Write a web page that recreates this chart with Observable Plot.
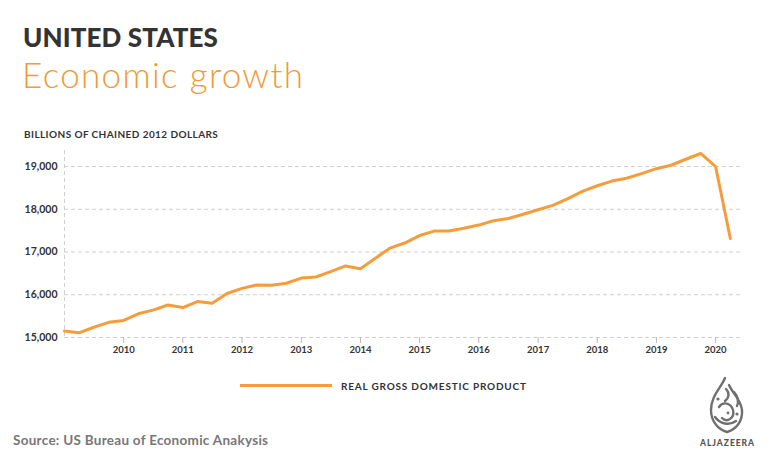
<!DOCTYPE html>
<html>
<head>
<meta charset="utf-8">
<script src="https://cdn.jsdelivr.net/npm/d3@7"></script>
<script src="https://cdn.jsdelivr.net/npm/@observablehq/plot@0.6"></script>
<style>
  html, body { margin: 0; padding: 0; background: #fff; }
  body { width: 770px; height: 472px; position: relative; overflow: hidden; font-family: Lato, "Open Sans", sans-serif; }
  .t { position: absolute; white-space: nowrap; line-height: 1; }
  #title { left: 23px; top: 24px; font-size: 26px; font-weight: 900; color: #333; }
  #subtitle { left: 22px; top: 57px; font-size: 35px; font-weight: 300; color: #f09a38; }
  #units { left: 24px; top: 129px; font-size: 10px; font-weight: 700; color: #333; }
  #legendText { left: 341px; top: 381px; font-size: 10px; font-weight: 700; color: #333; }
  #source { left: 13px; top: 434px; font-size: 13.5px; font-weight: 700; color: #777; }
  #logoText { left: 700px; top: 438.5px; font-size: 8.5px; font-weight: 900; color: #555; }
  #legendLine { position: absolute; left: 240px; top: 384px; width: 92px; height: 3px; background: #f59d3d; }
  #chart { position: absolute; left: 0; top: 140px; }
  #logo { position: absolute; left: 698px; top: 376px; }
</style>
</head>
<body>
<div id="title" class="t" data-w="195">UNITED STATES</div>
<div id="subtitle" class="t" data-w="281">Economic growth</div>
<div id="units" class="t" data-w="194">BILLIONS OF CHAINED 2012 DOLLARS</div>
<div id="chart"></div>
<div id="legendLine"></div>
<div id="legendText" class="t" data-w="185">REAL GROSS DOMESTIC PRODUCT</div>
<div id="source" class="t" data-w="255">Source: US Bureau of Economic Anakysis</div>
<svg id="logo" width="60" height="60" viewBox="0 0 60 60">
  <g fill="none" stroke="#6f6f6f" stroke-width="2.4" stroke-linecap="round">
    <path d="M27 2 C23 12 13 20 13 34 C13 46 21 54 29 56 C37 54 45 46 44 34 C43 24 35 18 31 9"/>
    <path d="M21 31 C25 25 33 27 35 34 C37 42 29 47 24 42"/>
    <path d="M28 13 C32 17 31 22 27 25"/>
    <path d="M17 41 C22 48 31 50 38 45"/>
    <path d="M36 16 C40 20 41 26 39 30"/>
  </g>
  <g fill="#6f6f6f"><circle cx="20" cy="23" r="1.6"/><circle cx="39" cy="38" r="1.6"/><circle cx="30" cy="37" r="1.4"/></g>
</svg>
<div id="logoText" class="t" data-w="54">ALJAZEERA</div>
<script>
// ---- data ----
const quarters = [
  "2009-01-01","2009-04-01","2009-07-01","2009-10-01",
  "2010-01-01","2010-04-01","2010-07-01","2010-10-01",
  "2011-01-01","2011-04-01","2011-07-01","2011-10-01",
  "2012-01-01","2012-04-01","2012-07-01","2012-10-01",
  "2013-01-01","2013-04-01","2013-07-01","2013-10-01",
  "2014-01-01","2014-04-01","2014-07-01","2014-10-01",
  "2015-01-01","2015-04-01","2015-07-01","2015-10-01",
  "2016-01-01","2016-04-01","2016-07-01","2016-10-01",
  "2017-01-01","2017-04-01","2017-07-01","2017-10-01",
  "2018-01-01","2018-04-01","2018-07-01","2018-10-01",
  "2019-01-01","2019-04-01","2019-07-01","2019-10-01",
  "2020-01-01","2020-04-01"
];
const gdp = [
  15150, 15110, 15240, 15355,
  15400, 15555, 15640, 15760,
  15700, 15840, 15800, 16030,
  16150, 16230, 16220, 16270,
  16390, 16415, 16540, 16675,
  16610, 16850, 17090, 17210,
  17385, 17490, 17490, 17555,
  17630, 17730, 17785, 17885,
  17990, 18090, 18245, 18420,
  18550, 18660, 18725, 18835,
  18950, 19030, 19170, 19305,
  19000, 17315
];
const yTicks = [15000, 16000, 17000, 18000, 19000];
const xTickYears = ["2010","2011","2012","2013","2014","2015","2016","2017","2018","2019","2020"];
const seriesName = "REAL GROSS DOMESTIC PRODUCT";

const data = quarters.map((q, i) => ({date: new Date(q + "T00:00:00Z"), value: gdp[i]}));
const xTicks = xTickYears.map(y => new Date(y + "-01-01T00:00:00Z"));
const x0 = new Date("2009-01-01T00:00:00Z");
const x1 = new Date("2020-06-15T00:00:00Z");

const chart = Plot.plot({
  width: 770,
  height: 222,
  marginTop: 10,
  marginBottom: 25,
  marginLeft: 64,
  marginRight: 28,
  style: {fontFamily: "Lato, 'Open Sans', sans-serif", background: "transparent", color: "#333"},
  x: {type: "utc", domain: [x0, x1]},
  y: {domain: [15000, 19375]},
  marks: [
    Plot.gridY(yTicks, {stroke: "#cfcfcf", strokeOpacity: 1, strokeDasharray: "4,3"}),
    Plot.ruleX([x0], {stroke: "#cfcfcf", strokeDasharray: "4,3"}),
    Plot.axisY(yTicks, {tickSize: 0, tickPadding: 7, tickFormat: d3.format(","), label: null,
      fill: "#333", fontSize: 10.5, fontWeight: 700, style: "letter-spacing:-0.3px"}),
    Plot.axisX(xTicks, {tickSize: 6, tickPadding: 3, tickFormat: d3.utcFormat("%Y"), label: null,
      stroke: "#b8b8b8", fill: "#333", fontSize: 9.5, fontWeight: 700, style: "letter-spacing:-0.4px"}),
    Plot.line(data, {x: "date", y: "value", stroke: "#f59d3d", strokeWidth: 3,
      strokeLinejoin: "round", strokeLinecap: "round", title: () => seriesName})
  ]
});
document.getElementById("chart").appendChild(chart);

// fit text widths to the reference by letter-spacing
document.querySelectorAll(".t[data-w]").forEach(el => {
  const target = +el.dataset.w;
  const w = el.getBoundingClientRect().width;
  const n = el.textContent.length;
  if (n > 1) el.style.letterSpacing = ((target - w) / (n - 1)).toFixed(2) + "px";
});
</script>
</body>
</html>
